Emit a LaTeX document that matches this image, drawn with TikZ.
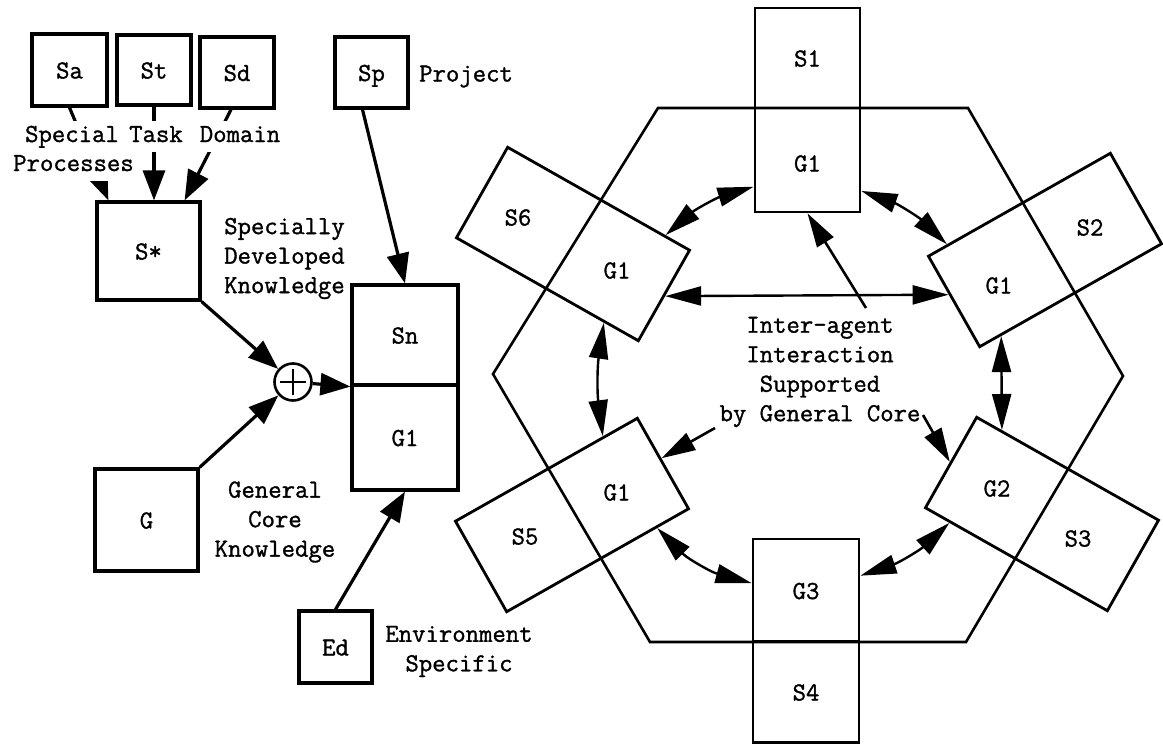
\documentclass[tikz,border=0pt]{standalone}
\usepackage{fontspec}
\newfontfamily\diagfont{Latin Modern Mono}[FakeBold=1.2]
\usetikzlibrary{arrows.meta,calc}
\begin{document}
\begin{tikzpicture}[x=1pt,y=-1pt,
  every node/.style={font=\fontsize{26}{29.5}\selectfont\diagfont, inner sep=0pt},
  box/.style={draw, line width=3.2pt, text height=17pt, text depth=0pt},
  agent/.style={draw, line width=2.8pt, text height=17pt, text depth=0pt},
  tilted/.style={draw, line width=2.8pt, minimum width=209pt, minimum height=104pt},
  lbl/.style={text height=17pt, text depth=0pt},
  cover/.style={fill=white, text height=17pt, text depth=5pt, inner xsep=3pt, inner ysep=4.5pt},
  note/.style={align=center},
  feed/.style={line width=3.2pt, -{Triangle[length=30pt,width=22pt]}},
  ring/.style={line width=2.4pt, {Triangle[length=36pt,width=19pt]}-{Triangle[length=36pt,width=19pt]}},
  pointer/.style={line width=2.6pt, -{Triangle[length=34pt,width=19pt]}},
  hexline/.style={line width=2.6pt, line join=miter}
]
\path[fill=white] (0,0) rectangle (1163,744);
\useasboundingbox (0,0) rectangle (1163,744);

% ---------- knowledge composition (left) ----------
\node[box, minimum width=75pt, minimum height=72pt] (sa) at (69.5,70) {Sa};
\node[box, minimum width=74pt, minimum height=70pt] (st) at (154,70) {St};
\node[box, minimum width=74pt, minimum height=71pt] (sd) at (237,72.5) {Sd};
\node[box, minimum width=73pt, minimum height=71pt] (sp) at (371.5,72.5) {Sp};
\node[lbl, anchor=west] (project) at (419,73) {Project};

\node[box, minimum width=103pt, minimum height=98pt] (sstar) at (148.5,251) {S*};
\node[box, minimum width=103pt, minimum height=102pt] (g) at (146.5,520) {G};

\node[draw, circle, line width=2.6pt, minimum size=37pt] (oplus) at (293,382) {};
\draw[line width=2.8pt] ([xshift=-13pt]oplus.center) -- ([xshift=13pt]oplus.center);
\draw[line width=2.8pt] ([yshift=-13pt]oplus.center) -- ([yshift=13pt]oplus.center);

\node[box, minimum width=106pt, minimum height=100pt] (sn) at (405,335) {Sn};
\node[box, minimum width=106pt, minimum height=105pt] (g1) at (405,437.5) {G1};
\node[box, minimum width=73pt, minimum height=72pt] (ed) at (335.5,647) {Ed};

\draw[feed] (sa.south) -- ([xshift=13pt]sstar.north west);
\draw[feed] (st.south) -- (st.south |- sstar.north);
\draw[feed] ([xshift=-6pt]sd.south) -- ([xshift=-17pt]sstar.north east);
\draw[feed] (sstar.south east) -- (oplus);
\draw[feed] (g.north east) -- (oplus);
\draw[feed] (oplus) -- (sn.south west);
\draw[feed] ([xshift=-9pt]sp.south) -- (sn.north);
\draw[feed] (ed.north) -- (g1.south);

\node[cover] (special) at (72,136) {Special};
\node[cover] (task) at (156,136) {Task};
\node[cover] (domain) at (240,136) {Domain};
\node[cover] (processes) at (73.5,165) {Processes};

\node[note, align=left] (developed) at (284.5,258.5) {Specially\\Developed\\Knowledge};
\node[note] (general) at (275,522) {General\\Core\\Knowledge};
\node[note] (environment) at (459,651.5) {Environment\\Specific};

% ---------- agent ring (right) ----------
\coordinate (h1) at (658,108);
\coordinate (h2) at (968,108);
\coordinate (h3) at (1123,376);
\coordinate (h4) at (966,642);
\coordinate (h5) at (650,642);
\coordinate (h6) at (493,374);
\draw[hexline] (h1) -- (h2) -- (h3) -- (h4) -- (h5) -- (h6) -- cycle;

\node[agent, minimum width=105pt, minimum height=100pt] (s1) at (807.5,58) {S1};
\node[agent, minimum width=105pt, minimum height=104pt] (g1t) at (807.5,160) {};
\node[lbl] (g1tl) at (807.5,163) {G1};
\node[agent, minimum width=106pt, minimum height=103pt] (g3) at (806,590.5) {G3};
\node[agent, minimum width=106pt, minimum height=101pt] (s4) at (806,692) {S4};

\node[tilted, rotate=-29.5] (b6) at (573,244) {};
\node[tilted, rotate=29.5] (b2) at (1045,250) {};
\node[tilted, rotate=29.5] (b5) at (572,515) {};
\node[tilted, rotate=-29.5] (b3) at (1042,514) {};

\node[lbl] (s6l) at (518,217) {S6};
\node[lbl] (g6l) at (617,270) {G1};
\node[lbl] (s2l) at (1090,227) {S2};
\node[lbl] (g2l) at (999,285) {G1};
\node[lbl] (s5l) at (525,536) {S5};
\node[lbl] (g5l) at (617,492) {G1};
\node[lbl] (g3l) at (997,488) {G2};
\node[lbl] (s3l) at (1078,538) {S3};

\draw[ring, bend right=12] ($(g1t.north west)!0.75!(g1t.south west)$) to ($(b6.north west)!0.86!(b6.north east)$);
\draw[ring, bend left=12] ($(g1t.north east)!0.79!(g1t.south east)$) to ($(b2.north west)!0.11!(b2.north east)$);
\draw[ring] (b6.east) -- ($(b2.north west)!0.42!(b2.south west)$);
\draw[ring, bend right=8] ($(b6.south west)!0.81!(b6.south east)$) to ($(b5.north west)!0.81!(b5.north east)$);
\draw[ring] ($(b2.south west)!0.12!(b2.south east)$) -- ($(b3.north west)!0.14!(b3.north east)$);
\draw[ring, bend right=15] ($(b5.south west)!0.82!(b5.south east)$) to ($(g3.north west)!0.43!(g3.south west)$);
\draw[ring, bend left=12] ($(b3.south west)!0.14!(b3.south east)$) to ($(g3.north east)!0.36!(g3.south east)$);

\node[note] (inter) at (820,372) {Inter-agent\\Interaction\\Supported\\by General Core};
\coordinate (t1) at (866,308);
\coordinate (t2) at (715,428);
\coordinate (t3) at (923,415);
\draw[pointer] (t1) -- (g1t.south);
\draw[pointer] (t2) -- ($(b5.north east)!0.45!(b5.south east)$);
\draw[pointer] (t3) -- (b3.west);
\end{tikzpicture}
\end{document}
